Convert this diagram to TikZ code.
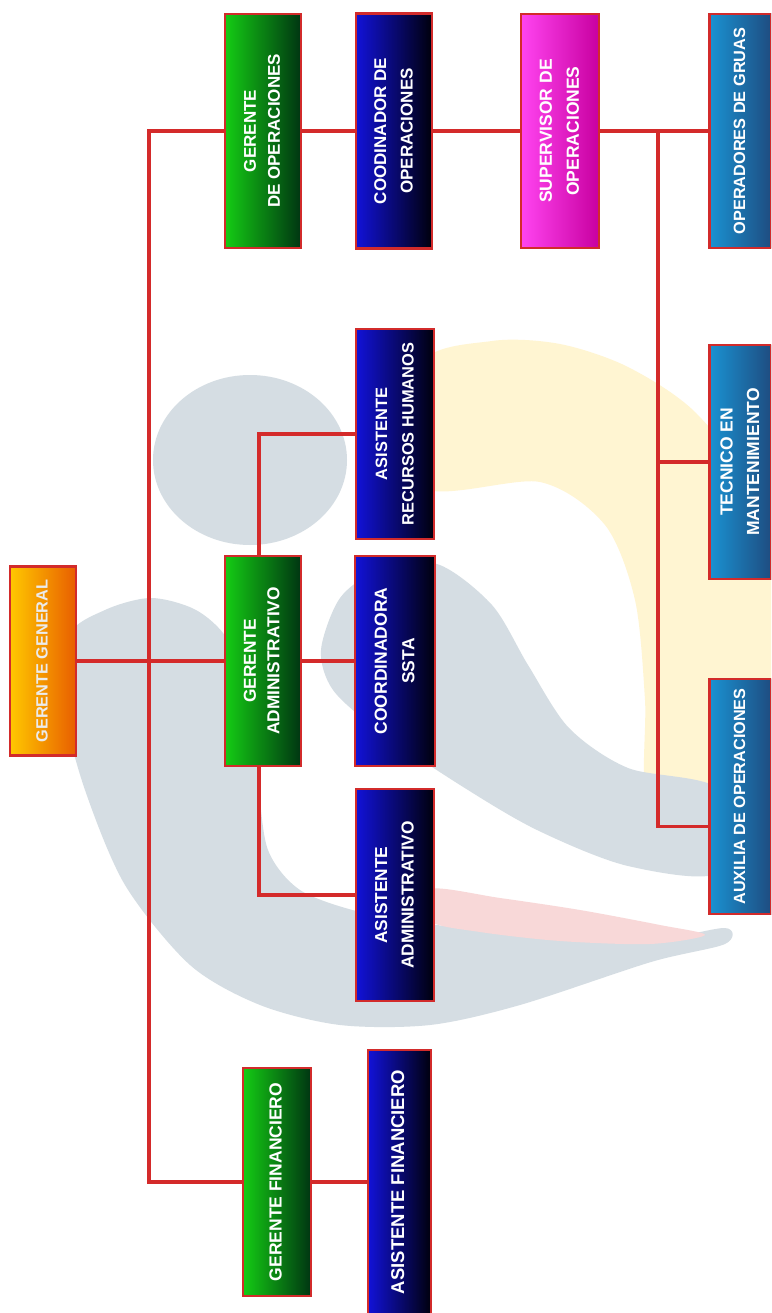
\documentclass[tikz,border=0pt]{standalone}
\usepackage{fontspec}
\newfontfamily\boxfont{Liberation Sans}
\usetikzlibrary{calc}
\definecolor{lnred}{HTML}{D42A2A}
\definecolor{boxred}{HTML}{D22B2B}
\definecolor{grL}{HTML}{14CC14}
\definecolor{grR}{HTML}{003512}
\definecolor{blL}{HTML}{1212D8}
\definecolor{blR}{HTML}{00000C}
\definecolor{mgL}{HTML}{FF44F0}
\definecolor{mgR}{HTML}{C800A0}
\definecolor{tlL}{HTML}{1A92D2}
\definecolor{tlR}{HTML}{1E4C80}
\definecolor{orL}{HTML}{FFC800}
\definecolor{orR}{HTML}{E85E00}
\definecolor{bgGray}{HTML}{D5DDE3}
\definecolor{bgYellow}{HTML}{FFF5D2}
\definecolor{bgPink}{HTML}{F8D8D8}
\newcommand{\vtxt}[1]{\rotatebox{90}{\begin{tabular}{@{}c@{}}#1\end{tabular}}}
\tikzset{
  orgbox/.style={draw=boxred, line width=2.8pt, inner sep=0pt, text=white},
  fs/.style 2 args={font=\boxfont\bfseries\fontsize{#1}{#2}\selectfont},
  greenbox/.style={orgbox, left color=grL, right color=grR},
  bluebox/.style={orgbox, left color=blL, right color=blR},
  magbox/.style={orgbox, left color=mgL, right color=mgR},
  tealbox/.style={orgbox, left color=tlL, right color=tlR},
  orangebox/.style={orgbox, left color=orL, right color=orR, text=white!92!black},
  link/.style={draw=lnred, line width=3.4pt},
}
\begin{document}
\begin{tikzpicture}[x=1pt,y=-1pt]
\useasboundingbox (0,0) rectangle (771,1313);
\clip (0,0) rectangle (771,1313);
\fill[white] (0,0) rectangle (771,1313);
% background watermark
\fill[bgYellow] plot[smooth cycle] coordinates {(420,365) (492,341) (560,344) (628,367) (696,413) (760,500) (785,620) (765,730) (705,800) (648,800) (645,700) (635,600) (605,525) (540,482) (420,486)};
\fill[bgGray] (250,460) ellipse [x radius=97, y radius=85];
\fill[bgGray] plot[smooth cycle] coordinates {(68,637) (105,610) (151,598) (196,610) (228,640) (250,700) (258,780) (268,850) (300,890) (360,912) (437,925) (540,936) (651,940) (725,928) (725,944) (651,962) (520,1005) (430,1025) (340,1025) (260,1005) (190,965) (125,885) (85,790) (66,714)};
\fill[bgPink] plot[smooth cycle] coordinates {(430,889) (500,898) (580,910) (660,925) (705,935) (650,944) (560,941) (480,932) (430,921)};
\fill[bgGray] plot[smooth cycle] coordinates {(321,650) (340,598) (378,571) (437,564) (492,605) (528,665) (569,728) (628,768) (720,790) (720,872) (628,866) (537,830) (460,785) (378,730) (333,690)};
% boxes
\node[orangebox, fs={16.3}{23.5}, minimum width=66pt, minimum height=189pt] (GG) at (43,661) {\vtxt{GERENTE GENERAL}};
\node[greenbox, fs={17}{24}, minimum width=76pt, minimum height=234pt] (GO) at (263,131) {\vtxt{GERENTE\\DE OPERACIONES}};
\node[bluebox, fs={17}{26.5}, minimum width=76pt, minimum height=235pt] (CO) at (394,131) {\vtxt{COODINADOR DE\\OPERACIONES}};
\node[magbox, fs={17.5}{27}, minimum width=78pt, minimum height=234pt] (SO) at (560,131) {\vtxt{SUPERVISOR DE\\OPERACIONES}};
\node[tealbox, fs={16.3}{23.5}, minimum width=62pt, minimum height=234pt] (OG) at (740.5,131) {\vtxt{OPERADORES DE GRUAS}};
\node[greenbox, fs={17.3}{23.5}, minimum width=76pt, minimum height=210pt] (GA) at (263,661) {\vtxt{GERENTE\\ADMINISTRATIVO}};
\node[bluebox, fs={16.4}{26.5}, minimum width=78pt, minimum height=210pt] (ARH) at (395,434) {\vtxt{ASISTENTE\\RECURSOS HUMANOS}};
\node[bluebox, fs={17.5}{27.5}, minimum width=80pt, minimum height=210pt] (CS) at (395,661) {\vtxt{COORDINADORA\\SSTA}};
\node[bluebox, fs={17.3}{26.5}, minimum width=78pt, minimum height=212pt] (AA) at (395,895) {\vtxt{ASISTENTE\\ADMINISTRATIVO}};
\node[tealbox, fs={17.5}{26.5}, minimum width=62pt, minimum height=234pt] (TM) at (740.5,462) {\vtxt{TECNICO EN\\MANTENIMIENTO}};
\node[tealbox, fs={16.2}{23.5}, minimum width=62pt, minimum height=235pt] (AO) at (740.5,796.5) {\vtxt{AUXILIA DE OPERACIONES}};
\node[greenbox, fs={17.5}{23.5}, minimum width=68pt, minimum height=228pt] (GF) at (277,1182) {\vtxt{GERENTE FINANCIERO}};
\node[bluebox, fs={18.5}{23.5}, minimum width=63pt, minimum height=264pt] (AF) at (399.5,1182) {\vtxt{ASISTENTE FINANCIERO}};
% connectors
\coordinate (trunk) at (149,661);
\coordinate (opv) at (658,131);
\draw[link] (GG.east) -- (GA.west);
\draw[link] (GO.west) -| (trunk) |- (GF.west);
\draw[link] (GF.east) -- (AF.west);
\draw[link] (GO.east) -- (CO.west);
\draw[link] (CO.east) -- (SO.west);
\draw[link] (SO.east) -- (OG.west);
\draw[link] (opv) |- ([yshift=-30pt]AO.west);
\draw[link] (opv |- TM.west) -- (TM.west);
\draw[link] ([xshift=-4pt]GA.north) |- (ARH.west);
\draw[link] ([xshift=-4pt]GA.south) |- (AA.west);
\draw[link] (GA.east) -- (CS.west);
\end{tikzpicture}
\end{document}
